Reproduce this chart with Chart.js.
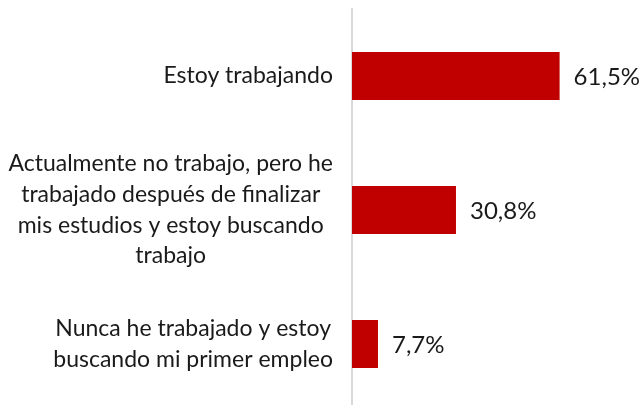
<!DOCTYPE html>
<html>
<head>
<meta charset="utf-8">
<script src="https://cdn.jsdelivr.net/npm/chart.js@4"></script>
<style>
  html, body { margin: 0; padding: 0; background: #fff; overflow: hidden; }
  #wrap { width: 644px; height: 411px; position: relative; }
</style>
</head>
<body>
<div id="wrap"><canvas id="situacion"></canvas></div>
<script>
const categorias = [
  ["Estoy trabajando"],
  ["Actualmente no trabajo, pero he", "trabajado después de finalizar", "mis estudios y estoy buscando", "trabajo"],
  ["Nunca he trabajado y estoy", "buscando mi primer empleo"]
];
const porcentajes = [61.5, 30.8, 7.7];
const etiquetasValor = ["61,5%", "30,8%", "7,7%"];

const fuente = "Lato, 'Open Sans', sans-serif";

// etiquetas de categoria centradas en bloque, pegadas al eje
const etiquetasPlugin = {
  id: 'etiquetas',
  afterDraw(chart) {
    const ctx = chart.ctx;
    const y = chart.scales.y;
    const meta = chart.getDatasetMeta(0);
    ctx.save();
    ctx.fillStyle = '#1a1a1a';
    ctx.textBaseline = 'middle';

    ctx.font = "23px " + fuente;
    const altoLinea = 30.7;
    categorias.forEach((lineas, i) => {
      const cy = y.getPixelForValue(i);
      const anchoMax = Math.max(...lineas.map(l => ctx.measureText(l).width));
      const derecha = chart.chartArea.left - 19;
      const cx = derecha - anchoMax / 2;
      ctx.textAlign = 'center';
      const inicio = cy - (lineas.length - 1) * altoLinea / 2;
      lineas.forEach((l, j) => ctx.fillText(l, cx, inicio + j * altoLinea));
    });

    ctx.font = "24px " + fuente;
    ctx.textAlign = 'left';
    meta.data.forEach((bar, i) => {
      ctx.fillText(etiquetasValor[i], bar.x + 14, bar.y + 1);
    });
    ctx.restore();
  }
};

const data = {
  labels: categorias,
  datasets: [{
    data: porcentajes,
    backgroundColor: '#c00000',
    borderWidth: 0,
    categoryPercentage: 1,
    barPercentage: 0.36
  }]
};

const config = {
  type: 'bar',
  data,
  options: {
    indexAxis: 'y',
    responsive: true,
    maintainAspectRatio: false,
    animation: false,
    layout: { padding: { left: 344, top: 9, right: 0, bottom: 0 } },
    plugins: { legend: { display: false }, tooltip: { enabled: false } },
    scales: {
      x: { display: false, min: 0, max: 86.5 },
      y: {
        grid: { display: false },
        ticks: { display: false },
        border: { display: true, color: '#d9d9d9', width: 2 }
      }
    }
  },
  plugins: [etiquetasPlugin]
};

const canvas = document.getElementById('situacion');
new Chart(canvas, config);
</script>
</body>
</html>
